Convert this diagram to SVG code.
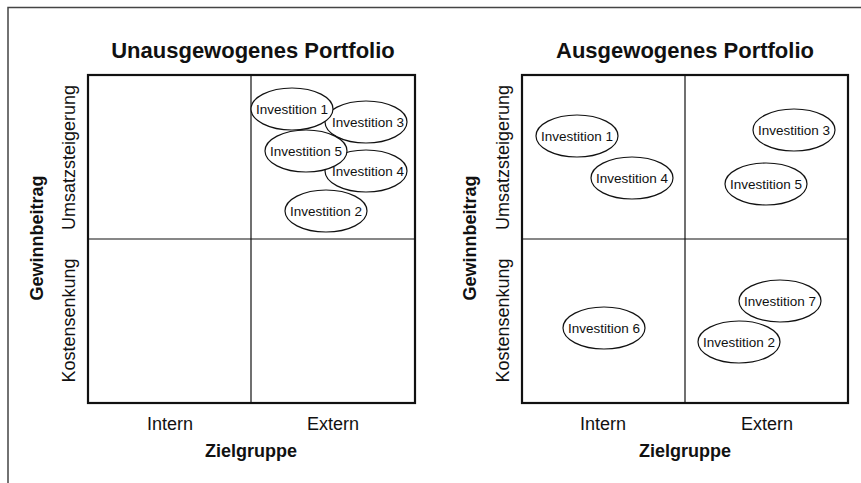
<svg xmlns="http://www.w3.org/2000/svg" width="861" height="483" viewBox="0 0 861 483">
<style>
text{font-family:"Liberation Sans",Arial,Helvetica,sans-serif;fill:#111;}
.title{font-size:22px;font-weight:bold;text-anchor:middle;}
.axis{font-size:18px;text-anchor:middle;}
.axisb{font-size:18px;font-weight:bold;text-anchor:middle;}
.lbl{font-size:13.5px;text-anchor:middle;}
.outer{fill:none;stroke:#111;stroke-width:2.2;}
.inner{stroke:#111;stroke-width:1.2;}
.node ellipse{fill:#fff;stroke:#111;stroke-width:1.2;}
.frame{fill:none;stroke:#444;stroke-width:1.5;}
</style>
<rect width="861" height="483" fill="#fff"/>
<polyline class="frame" points="8,483 8,7.5 861,7.5"/>

<g id="left-portfolio">
  <text class="title" x="253" y="58">Unausgewogenes Portfolio</text>
  <rect class="outer" x="88" y="75" width="327" height="328"/>
  <line class="inner" x1="251" y1="75" x2="251" y2="403"/>
  <line class="inner" x1="88" y1="239" x2="415" y2="239"/>
  <text class="axis" transform="translate(75,157.5) rotate(-90)">Umsatzsteigerung</text>
  <text class="axis" transform="translate(75,320.5) rotate(-90)">Kostensenkung</text>
  <text class="axisb" transform="translate(43,238) rotate(-90)">Gewinnbeitrag</text>
  <text class="axis" x="170" y="430">Intern</text>
  <text class="axis" x="333" y="430">Extern</text>
  <text class="axisb" x="251" y="457">Zielgruppe</text>
</g>

<g id="right-portfolio">
  <text class="title" x="685" y="58">Ausgewogenes Portfolio</text>
  <rect class="outer" x="522" y="75" width="326" height="328"/>
  <line class="inner" x1="685" y1="75" x2="685" y2="403"/>
  <line class="inner" x1="522" y1="239" x2="848" y2="239"/>
  <text class="axis" transform="translate(509,157.5) rotate(-90)">Umsatzsteigerung</text>
  <text class="axis" transform="translate(509,320.5) rotate(-90)">Kostensenkung</text>
  <text class="axisb" transform="translate(476,238) rotate(-90)">Gewinnbeitrag</text>
  <text class="axis" x="603" y="430">Intern</text>
  <text class="axis" x="767" y="430">Extern</text>
  <text class="axisb" x="685" y="457">Zielgruppe</text>
</g>

<g id="L-inv3" class="node"><ellipse cx="366" cy="122" rx="41" ry="21"/><text class="lbl" x="368" y="127">Investition 3</text></g>
<g id="L-inv4" class="node"><ellipse cx="366" cy="171" rx="41" ry="21"/><text class="lbl" x="368" y="176">Investition 4</text></g>
<g id="L-inv2" class="node"><ellipse cx="326" cy="211" rx="41" ry="21"/><text class="lbl" x="326" y="216">Investition 2</text></g>
<g id="L-inv1" class="node"><ellipse cx="292" cy="109" rx="41" ry="21"/><text class="lbl" x="292" y="114">Investition 1</text></g>
<g id="L-inv5" class="node"><ellipse cx="306" cy="151" rx="41" ry="21"/><text class="lbl" x="306" y="156">Investition 5</text></g>

<g id="R-inv1" class="node"><ellipse cx="577" cy="136" rx="41" ry="21"/><text class="lbl" x="577" y="141">Investition 1</text></g>
<g id="R-inv4" class="node"><ellipse cx="632" cy="178" rx="41" ry="21"/><text class="lbl" x="632" y="183">Investition 4</text></g>
<g id="R-inv3" class="node"><ellipse cx="794" cy="130" rx="41" ry="21"/><text class="lbl" x="794" y="135">Investition 3</text></g>
<g id="R-inv5" class="node"><ellipse cx="766" cy="184" rx="41" ry="21"/><text class="lbl" x="766" y="189">Investition 5</text></g>
<g id="R-inv6" class="node"><ellipse cx="604" cy="328" rx="41" ry="21"/><text class="lbl" x="604" y="333">Investition 6</text></g>
<g id="R-inv7" class="node"><ellipse cx="780" cy="301" rx="41" ry="21"/><text class="lbl" x="780" y="306">Investition 7</text></g>
<g id="R-inv2" class="node"><ellipse cx="739" cy="342" rx="41" ry="21"/><text class="lbl" x="739" y="347">Investition 2</text></g>
</svg>
